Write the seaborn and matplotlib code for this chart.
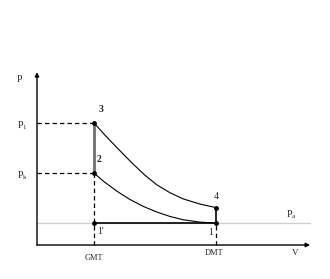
import matplotlib
matplotlib.use("Agg")
import matplotlib.pyplot as plt
import seaborn as sns
import pandas as pd

sns.set_style("white")
plt.rcParams['font.family'] = ['Liberation Serif', 'DejaVu Serif']
plt.rcParams['mathtext.fontset'] = 'custom'
plt.rcParams['mathtext.rm'] = 'Liberation Serif'

# ---- data (abstract units: V in swept units, P relative to ambient) ----
V_gmt = 1.0
V_dmt = 3.14
P_a = 1.0
P_k = 3.27
P_1 = 5.55
P_4 = 1.70

expansion_V = [1.0, 1.19, 1.43, 1.67, 1.89, 2.10, 2.33, 2.56, 2.86, 3.14]
expansion_P = [5.55, 5.00, 4.35, 3.72, 3.18, 2.74, 2.38, 2.10, 1.86, 1.70]
compression_V = [1.0, 1.16, 1.40, 1.63, 1.86, 2.10, 2.33, 2.56, 2.86, 3.14]
compression_P = [3.27, 2.91, 2.45, 2.07, 1.76, 1.50, 1.30, 1.15, 1.04, 1.0]

point_labels = ["1'", "1", "2", "3", "4"]
point_V = [V_gmt, V_dmt, V_gmt, V_gmt, V_dmt]
point_P = [P_a, P_a, P_k, P_1, P_4]

V_axis_end = 4.79
P_axis_end = 7.86

fig = plt.figure(figsize=(3.3, 2.79), dpi=100)
ax = fig.add_axes([0, 0, 1, 1])
ax.set_xlim(-0.649, 5.140)
ax.set_ylim(-1.545, 11.136)
ax.axis('off')

# ambient pressure line
ax.plot([0, V_axis_end], [P_a, P_a], color='#cfcfcf', lw=1.0, zorder=1)

# dashed guides
dash = dict(color='black', lw=0.9, ls=(0, (3.5, 2.5)), zorder=2)
ax.plot([0, V_gmt], [P_1, P_1], **dash)
ax.plot([0, V_gmt], [P_k, P_k], **dash)
ax.plot([V_gmt, V_gmt], [0, P_k], **dash)
ax.plot([V_dmt, V_dmt], [0, P_a], **dash)

# cycle lines
df_exp = pd.DataFrame({'V': expansion_V, 'P': expansion_P})
df_cmp = pd.DataFrame({'V': compression_V, 'P': compression_P})
sns.lineplot(data=df_exp, x='V', y='P', sort=False, estimator=None, color='black', lw=0.8, ax=ax)
sns.lineplot(data=df_cmp, x='V', y='P', sort=False, estimator=None, color='black', lw=0.8, ax=ax)
ax.plot([V_gmt, V_gmt], [P_k, P_1], color='#707070', lw=2.0, zorder=3)
ax.plot([V_dmt, V_dmt], [P_a, P_4], color='black', lw=1.2, zorder=3)
ax.plot([V_gmt, V_dmt], [P_a, P_a], color='black', lw=1.2, zorder=3)

sns.scatterplot(x=point_V, y=point_P, color='black', s=12, linewidth=0, zorder=5, ax=ax)

# axes arrows
ax.annotate('', xy=(V_axis_end, 0), xytext=(0, 0),
            arrowprops=dict(arrowstyle='-|>', lw=1.0, color='black', mutation_scale=6, shrinkA=0, shrinkB=0))
ax.annotate('', xy=(0, P_axis_end), xytext=(0, 0),
            arrowprops=dict(arrowstyle='-|>', lw=1.0, color='black', mutation_scale=6, shrinkA=0, shrinkB=0))

fs = 7
ax.text(-0.30, 7.50, 'P', fontsize=fs, ha='center', va='center')
ax.text(-0.26, 5.41, r'$\mathregular{P_1}$', fontsize=fs, ha='center', va='center')
ax.text(-0.26, 3.16, r'$\mathregular{P_k}$', fontsize=fs, ha='center', va='center')
ax.text(4.46, 1.36, r'$\mathregular{P_a}$', fontsize=fs, ha='center', va='center')
ax.text(1.13, 6.14, '3', fontsize=fs, ha='center', va='center', fontweight='bold')
ax.text(1.09, 3.88, '2', fontsize=fs, ha='center', va='center', fontweight='bold')
ax.text(3.15, 2.19, '4', fontsize=fs, ha='center', va='center')
ax.text(3.05, 0.56, '1', fontsize=fs, ha='center', va='center')
ax.text(1.05, 0.63, "1'", fontsize=fs, ha='left', va='center')
ax.text(1.0, -0.58, 'GMT', fontsize=6, ha='center', va='center')
ax.text(3.10, -0.37, 'DMT', fontsize=6, ha='center', va='center')
ax.text(4.53, -0.37, 'V', fontsize=6.5, ha='center', va='center')

fig.savefig('out.png', dpi=100)
